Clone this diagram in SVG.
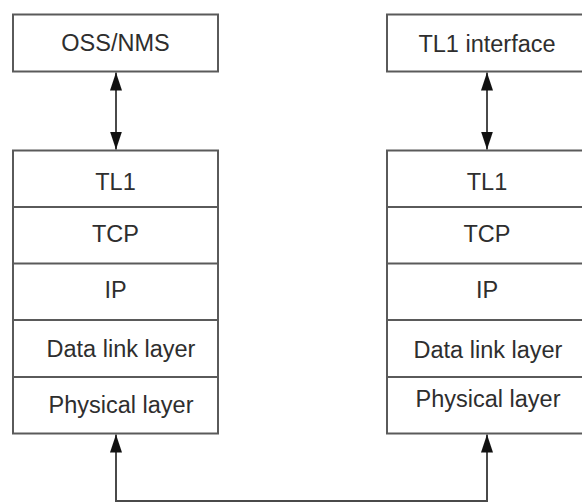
<svg xmlns="http://www.w3.org/2000/svg" width="582" height="503" viewBox="0 0 582 503">
<style>
.box{fill:#ffffff;stroke:#5a5a5a;stroke-width:2}
.sep{stroke:#5a5a5a;stroke-width:2}
.t{font-family:"Liberation Sans",Arial,sans-serif;font-size:23.5px;fill:#2e2e2e;text-anchor:middle;dominant-baseline:central}
.conn{fill:none;stroke:#4a4a4a;stroke-width:2}
</style>
<defs>
<marker id="ah" viewBox="0 0 18 12" refX="18" refY="6" markerWidth="18" markerHeight="12" markerUnits="userSpaceOnUse" orient="auto-start-reverse">
<path d="M0,0 L18,6 L0,12 z" fill="#111"/>
</marker>
</defs>
<rect width="582" height="503" fill="#ffffff"/>
<g id="oss-nms">
<rect class="box" x="13" y="14.5" width="205" height="57"/>
<text class="t" x="115.5" y="43">OSS/NMS</text>
</g>
<g id="tl1-interface">
<rect class="box" x="387" y="14.5" width="205" height="57"/>
<text class="t" x="487" y="44">TL1 interface</text>
</g>
<g id="stack-left">
<rect class="box" x="13" y="150.5" width="205" height="283"/>
<line class="sep" x1="13" y1="207" x2="218" y2="207"/>
<line class="sep" x1="13" y1="263.5" x2="218" y2="263.5"/>
<line class="sep" x1="13" y1="320" x2="218" y2="320"/>
<line class="sep" x1="13" y1="377" x2="218" y2="377"/>
<text class="t" x="115.5" y="182">TL1</text>
<text class="t" x="115.5" y="234">TCP</text>
<text class="t" x="115.5" y="290">IP</text>
<text class="t" x="121" y="349">Data link layer</text>
<text class="t" x="121" y="405">Physical layer</text>
</g>
<g id="stack-right">
<rect class="box" x="387" y="150.5" width="205" height="283"/>
<line class="sep" x1="387" y1="207" x2="592" y2="207"/>
<line class="sep" x1="387" y1="263.5" x2="592" y2="263.5"/>
<line class="sep" x1="387" y1="320" x2="592" y2="320"/>
<line class="sep" x1="387" y1="377" x2="592" y2="377"/>
<text class="t" x="487" y="182">TL1</text>
<text class="t" x="487" y="234">TCP</text>
<text class="t" x="487" y="290">IP</text>
<text class="t" x="488" y="350">Data link layer</text>
<text class="t" x="488" y="399">Physical layer</text>
</g>
<g id="connectors">
<line class="conn" x1="116" y1="72.5" x2="116" y2="149.5" marker-start="url(#ah)" marker-end="url(#ah)"/>
<line class="conn" x1="487" y1="72.5" x2="487" y2="149.5" marker-start="url(#ah)" marker-end="url(#ah)"/>
<path class="conn" d="M116,434.5 V501 H487 V434.5" marker-start="url(#ah)" marker-end="url(#ah)"/>
</g>
</svg>
